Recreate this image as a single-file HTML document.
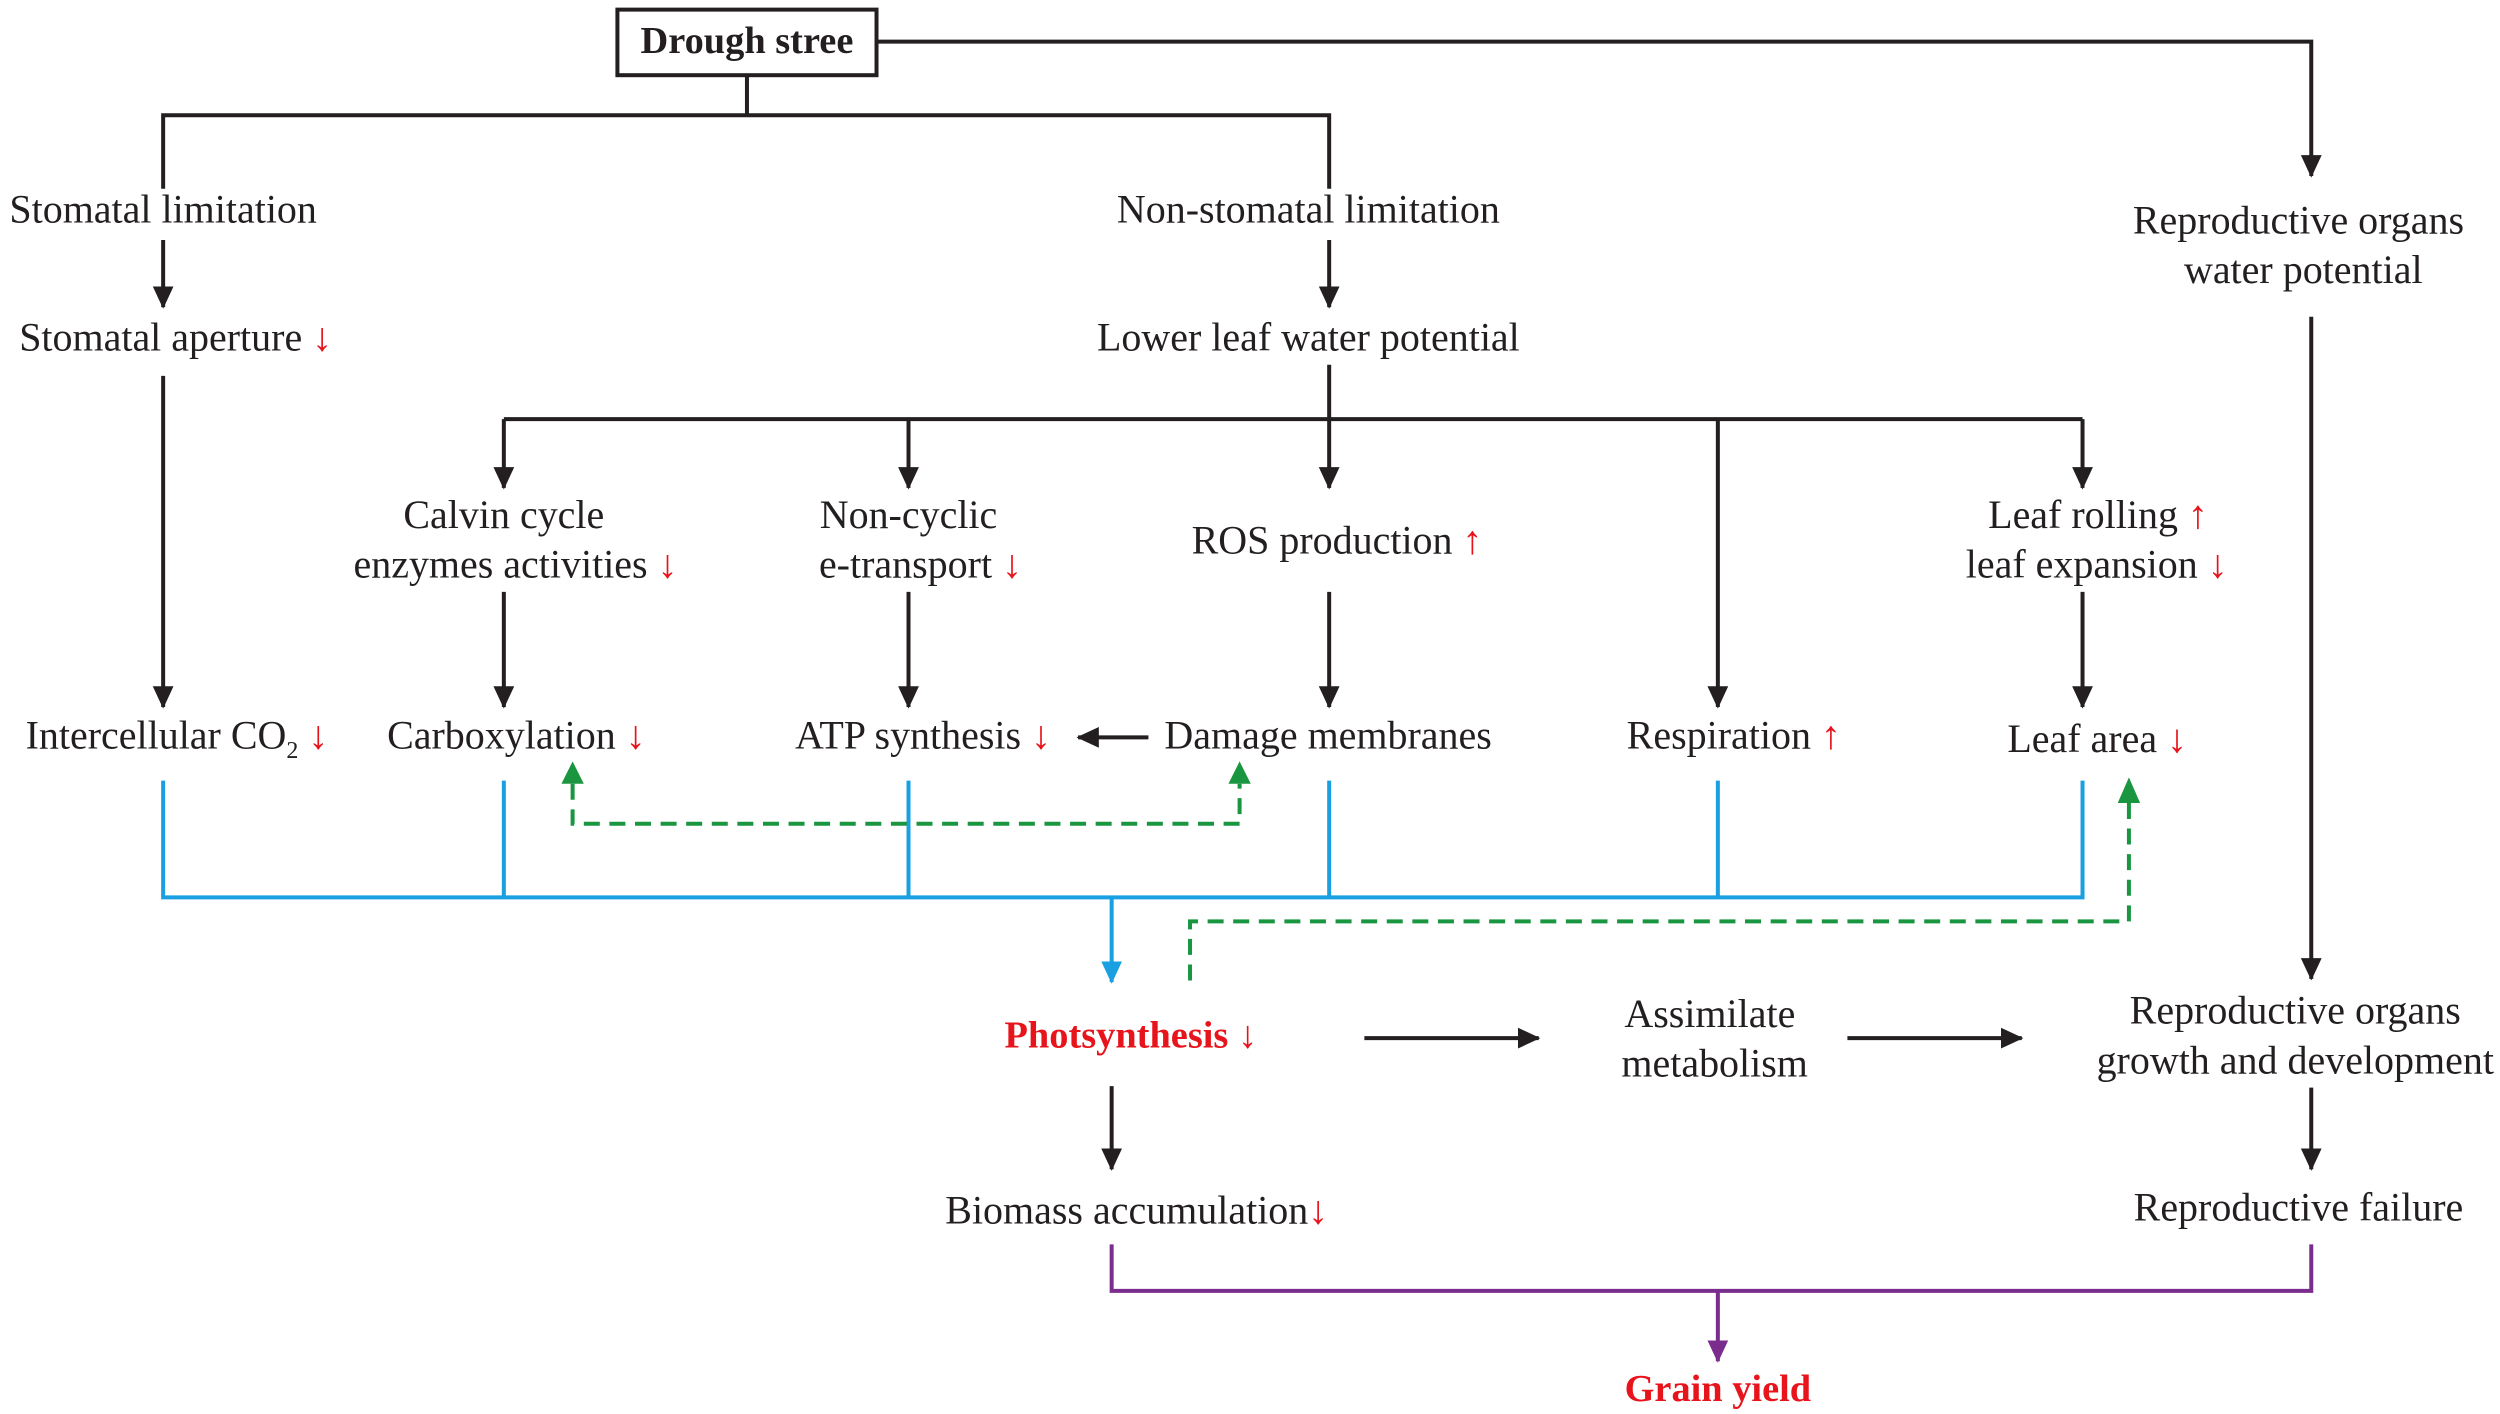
<!DOCTYPE html>
<html><head><meta charset="utf-8"><style>
html,body{margin:0;padding:0;background:#fff}
svg{display:block}
text{font-family:"Liberation Serif",serif;font-size:25px;fill:#231f20}
.r{fill:#e8141c}
.b{font-weight:bold}
</style></head><body>
<svg width="2500" height="1414" viewBox="0 0 1563 884" xmlns="http://www.w3.org/2000/svg">
<defs>
<marker id="ak" markerWidth="16" markerHeight="14" refX="13" refY="6.5" orient="auto" markerUnits="userSpaceOnUse"><path d="M0,0 L14,6.5 L0,13 z" fill="#231f20"/></marker>
<marker id="ab" markerWidth="16" markerHeight="14" refX="13" refY="6.5" orient="auto" markerUnits="userSpaceOnUse"><path d="M0,0 L14,6.5 L0,13 z" fill="#1a9fe0"/></marker>
<marker id="ap" markerWidth="16" markerHeight="14" refX="13" refY="6.5" orient="auto" markerUnits="userSpaceOnUse"><path d="M0,0 L14,6.5 L0,13 z" fill="#7b2d8e"/></marker>
</defs>
<g stroke="#231f20" stroke-width="2.5" fill="none">
<rect x="386" y="6" width="162" height="41"/>
<path d="M548,26 H1445 V110" marker-end="url(#ak)"/>
<path d="M467,47 V72 M102,118 V72 H831 V118"/>
<path d="M102,150 V192" marker-end="url(#ak)"/>
<path d="M831,150 V192" marker-end="url(#ak)"/>
<path d="M102,235 V442" marker-end="url(#ak)"/>
<path d="M831,228 V305" marker-end="url(#ak)"/>
<path d="M315,262 H1302"/>
<path d="M315,262 V305" marker-end="url(#ak)"/>
<path d="M568,262 V305" marker-end="url(#ak)"/>
<path d="M1074,262 V442" marker-end="url(#ak)"/>
<path d="M1302,262 V305" marker-end="url(#ak)"/>
<path d="M315,370 V442" marker-end="url(#ak)"/>
<path d="M568,370 V442" marker-end="url(#ak)"/>
<path d="M831,370 V442" marker-end="url(#ak)"/>
<path d="M1302,370 V442" marker-end="url(#ak)"/>
<path d="M718,461 H674" marker-end="url(#ak)"/>
<path d="M1445,198 V612" marker-end="url(#ak)"/>
<path d="M853,649 H962" marker-end="url(#ak)"/>
<path d="M1155,649 H1264" marker-end="url(#ak)"/>
<path d="M695,679 V731" marker-end="url(#ak)"/>
<path d="M1445,680 V731" marker-end="url(#ak)"/>
</g>
<g stroke="#1a9fe0" stroke-width="2.5" fill="none">
<path d="M102,488 V561 H1302 V488 M315,488 V561 M568,488 V561 M831,488 V561 M1074,488 V561"/>
<path d="M695,561 V614" marker-end="url(#ab)"/>
</g>
<g stroke="#1a9641" stroke-width="2.5" fill="none" stroke-dasharray="10,6">
<path d="M358,490 V515 H775 V490" />
<path d="M744,613 V576 H1331 V490"/>
</g>
<path d="M351,490 L358,476 L365,490 z M768,490 L775,476 L782,490 z M1324,502 L1331,486 L1338,502 z" fill="#1a9641"/>
<g stroke="#7b2d8e" stroke-width="2.5" fill="none">
<path d="M695,778 V807 H1445 V778"/>
<path d="M1074,807 V851" marker-end="url(#ap)"/>
</g>
<text x="467" y="33" text-anchor="middle" class="b" style="font-size:24px">Drough stree</text>
<text x="102" y="139" text-anchor="middle">Stomatal limitation</text>
<text x="818" y="139" text-anchor="middle">Non-stomatal limitation</text>
<text x="1437" y="146" text-anchor="middle">Reproductive organs</text>
<text x="1440" y="177" text-anchor="middle">water potential</text>
<text x="12" y="219">Stomatal aperture <tspan class="r">↓</tspan></text>
<text x="818" y="219" text-anchor="middle">Lower leaf water potential</text>
<text x="315" y="330" text-anchor="middle">Calvin cycle</text>
<text x="221" y="361">enzymes activities <tspan class="r">↓</tspan></text>
<text x="568" y="330" text-anchor="middle">Non-cyclic</text>
<text x="512" y="361">e-transport <tspan class="r">↓</tspan></text>
<text x="745" y="346">ROS production <tspan class="r">↑</tspan></text>
<text x="1243" y="330">Leaf rolling <tspan class="r">↑</tspan></text>
<text x="1229" y="361">leaf expansion <tspan class="r">↓</tspan></text>
<text x="16" y="468">Intercellular CO<tspan font-size="15" dy="6">2</tspan><tspan dy="-6" class="r"> ↓</tspan></text>
<text x="242" y="468">Carboxylation <tspan class="r">↓</tspan></text>
<text x="497" y="468">ATP synthesis <tspan class="r">↓</tspan></text>
<text x="728" y="468">Damage membranes</text>
<text x="1017" y="468">Respiration <tspan class="r">↑</tspan></text>
<text x="1255" y="470">Leaf area <tspan class="r">↓</tspan></text>
<text x="628" y="655" class="b" style="fill:#e8141c;font-size:24px">Photsynthesis ↓</text>
<text x="1069" y="642" text-anchor="middle">Assimilate</text>
<text x="1072" y="673" text-anchor="middle">metabolism</text>
<text x="1435" y="640" text-anchor="middle">Reproductive organs</text>
<text x="1435" y="671" text-anchor="middle">growth and development</text>
<text x="591" y="765">Biomass accumulation<tspan class="r">↓</tspan></text>
<text x="1437" y="763" text-anchor="middle">Reproductive failure</text>
<text x="1074" y="876" text-anchor="middle" class="b" style="fill:#e8141c;font-size:24px">Grain yield</text>
</svg>
</body></html>
